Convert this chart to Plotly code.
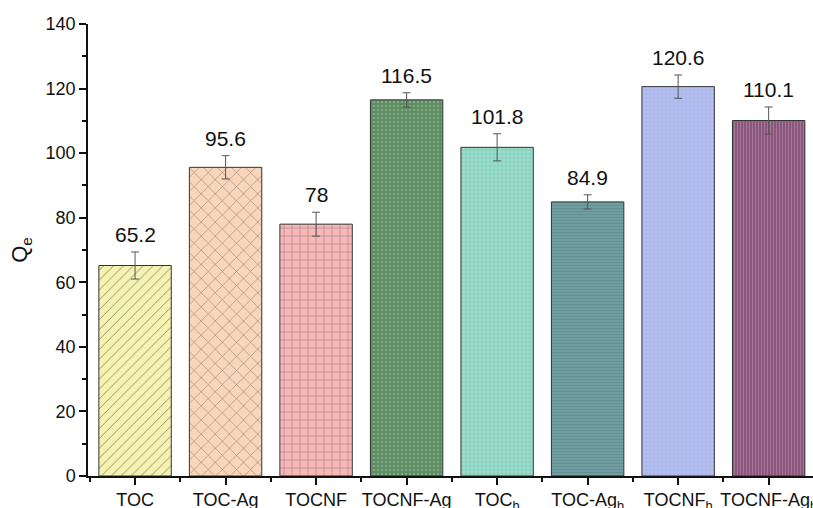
import plotly.graph_objects as go

# Adsorption capacity per sample
samples = ["TOC", "TOC-Ag", "TOCNF", "TOCNF-Ag",
           "TOC<sub>b</sub>", "TOC-Ag<sub>b</sub>", "TOCNF<sub>b</sub>", "TOCNF-Ag<sub>b</sub>"]
qe_values = [65.2, 95.6, 78, 116.5, 101.8, 84.9, 120.6, 110.1]
qe_errors = [4.2, 3.6, 3.7, 2.2, 4.2, 2.2, 3.6, 4.2]

fill_colors = ["#F6F2B2", "#F9D6BA", "#F8B8B8", "#5C8B62",
               "#98DCC9", "#6F9DA0", "#B4BFF1", "#8A587C"]
hatch_shapes = ["/", "x", "+", ".", ".", "-", ".", "|"]
hatch_colors = ["#333333", "#333333", "#333333", "#9cc79f",
                "#7cc4b0", "#5a8488", "#a2acdf", "#c896b8"]
hatch_sizes = [7, 10, 8, 4, 4, 3, 4, 3]
hatch_solid = [0.14, 0.12, 0.13, 0.35, 0.4, 0.35, 0.4, 0.3]

FONT = "Liberation Sans, Arial, sans-serif"
positions = list(range(len(samples)))

fig = go.Figure()
for i in positions:
    fig.add_trace(go.Bar(
        x=[i], y=[qe_values[i]], width=0.8,
        marker=dict(
            color=fill_colors[i],
            line=dict(color="#333333", width=1),
            pattern=dict(shape=hatch_shapes[i], fgcolor=hatch_colors[i],
                         size=hatch_sizes[i], solidity=hatch_solid[i],
                         fillmode="overlay"),
        ),
        error_y=dict(type="data", array=[qe_errors[i]], color="#555555",
                     thickness=1, width=4),
        showlegend=False,
    ))
    fig.add_annotation(
        x=i, y=qe_values[i] + qe_errors[i], text=str(qe_values[i]),
        showarrow=False, yanchor="bottom", yshift=4,
        font=dict(family=FONT, size=21, color="#111111"),
    )

fig.update_layout(
    width=813, height=508,
    margin=dict(l=88, r=0, t=24, b=32),
    plot_bgcolor="white", paper_bgcolor="white",
    font=dict(family=FONT, size=18, color="#111111"),
    bargap=0.2,
    xaxis=dict(
        range=[-0.52, 7.49], tickmode="array", tickvals=positions, ticktext=samples,
        automargin=False, ticklabeloverflow="allow",
        showgrid=False, zeroline=False,
        showline=True, linecolor="#111111", linewidth=1.5,
        ticks="outside", ticklen=7, tickwidth=1.5, tickcolor="#111111",
        tickfont=dict(size=18),
        minor=dict(tickmode="array", tickvals=[p - 0.5 for p in positions] + [7.5],
                   ticks="outside", ticklen=4, tickwidth=1.5, tickcolor="#111111"),
    ),
    yaxis=dict(
        range=[0, 140], tickmode="linear", tick0=0, dtick=20,
        automargin=False,
        showgrid=False, zeroline=False,
        showline=True, linecolor="#111111", linewidth=1.5,
        ticks="outside", ticklen=7, tickwidth=1.5, tickcolor="#111111",
        tickfont=dict(size=18),
        minor=dict(dtick=10, tick0=0, ticks="outside", ticklen=4,
                   tickwidth=1.5, tickcolor="#111111"),
        title=dict(text="Q<sub>e</sub>", font=dict(size=22), standoff=12),
    ),
)

fig.write_html("out.html")
